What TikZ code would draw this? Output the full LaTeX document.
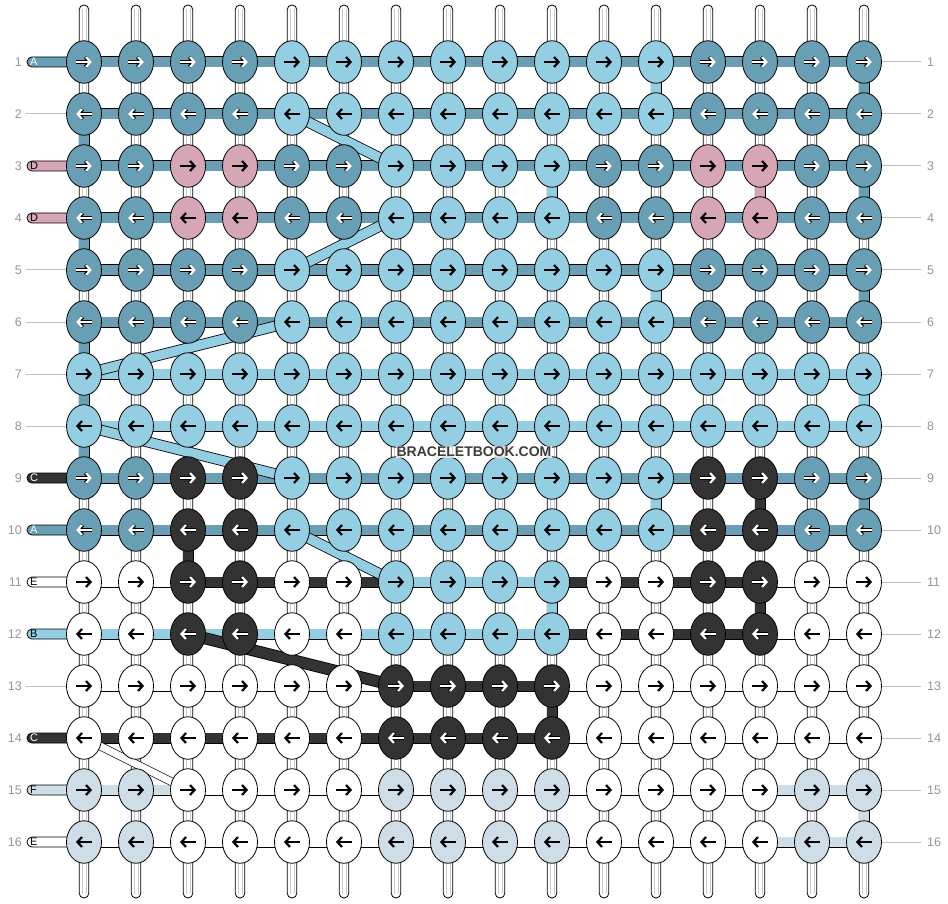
\documentclass[tikz,border=0pt]{standalone}
\usepackage{fontspec}
\setmainfont{Liberation Sans}
\usetikzlibrary{shapes.geometric,arrows.meta}
\definecolor{colA}{RGB}{104,159,181}
\definecolor{colB}{RGB}{148,206,226}
\definecolor{colC}{RGB}{51,51,51}
\definecolor{colD}{RGB}{214,166,180}
\definecolor{colE}{RGB}{255,255,255}
\definecolor{colF}{RGB}{207,221,231}
\colorlet{arrA}{white}\colorlet{outA}{black}
\colorlet{arrC}{white}\colorlet{outC}{black}
\colorlet{arrB}{black}\colorlet{outB}{colB}
\colorlet{arrD}{black}\colorlet{outD}{colD}
\colorlet{arrE}{black}\colorlet{outE}{colE}
\colorlet{arrF}{black}\colorlet{outF}{colF}
\colorlet{tagtxtA}{white}\colorlet{tagtxtC}{white}
\colorlet{tagtxtB}{black}\colorlet{tagtxtD}{black}
\colorlet{tagtxtE}{black}\colorlet{tagtxtF}{black}
\definecolor{numgray}{RGB}{150,150,150}
\definecolor{linegray}{RGB}{190,190,190}
\definecolor{tubegray}{RGB}{200,200,200}
\definecolor{wmgray}{RGB}{60,60,60}
\tikzset{
 knot/.style={ellipse, draw=black, line width=0.8pt, minimum width=35pt, minimum height=42.5pt, inner sep=0pt},
 outl/.style={line width=11pt, draw=black},
 infill/.style={line width=9.4pt},
 arrowsty/.style={line width=2.2pt, -{Straight Barb[length=4.5pt,width=10pt]}},
 tube/.style={draw=black, line width=0.8pt, fill=white, rounded corners=4.7pt},
 tubeline/.style={draw=tubegray, line width=0.6pt},
 gline/.style={draw=linegray, line width=1pt},
 num/.style={text=numgray, font=\fontsize{12.5}{14}\selectfont, inner sep=0pt},
 tagtext/.style={font=\fontsize{11}{12}\selectfont, inner sep=0pt},
}
\begin{document}
\begin{tikzpicture}[x=1pt,y=-1pt]
\useasboundingbox (0,0) rectangle (948,904);
\fill[white] (0,0) rectangle (948,904);
% knot positions
\foreach \rw in {1,...,16}{
  \foreach \cl in {1,...,16}{
    \coordinate (p-\rw-\cl) at ({84+52*(\cl-1)},{62+52*(\rw-1)});
  }
}
% vertical base strings (tubes)
\foreach \cl in {1,...,16}{
  \pgfmathsetmacro\xx{84+52*(\cl-1)}
  \draw[tube] ({\xx-4.8},5) rectangle ({\xx+4.8},898);
  \draw[tubeline] ({\xx-1.8},9) -- ({\xx-1.8},894);
  \draw[tubeline] ({\xx+1.8},9) -- ({\xx+1.8},894);
}
% horizontal segments
\foreach \rw/\lst in {
 1/{A,A,A,A,A,A,A,A,A,A,A,A,A,A,A},
 2/{A,A,A,A,A,A,A,A,A,A,A,A,A,A,A},
 3/{A,A,A,A,A,A,A,A,A,A,A,A,A,A,A},
 4/{A,A,A,A,A,A,A,A,A,A,A,A,A,A,A},
 5/{A,A,A,A,A,A,A,A,A,A,A,A,A,A,A},
 6/{A,A,A,A,A,A,A,A,A,A,A,A,A,A,A},
 7/{B,B,B,B,B,B,B,B,B,B,B,B,B,B,B},
 8/{B,B,B,B,B,B,B,B,B,B,B,B,B,B,B},
 9/{A,A,A,A,A,A,A,A,A,A,A,A,A,A,A},
 10/{A,A,A,A,A,A,A,A,A,A,A,A,A,A,A},
 11/{E,E,C,C,C,C,B,B,B,C,C,C,C,E,E},
 12/{B,B,B,B,B,B,B,B,B,C,C,C,C,E,E},
 13/{E,E,E,E,E,E,C,C,C,E,E,E,E,E,E},
 14/{C,C,C,C,C,C,C,C,C,E,E,E,E,E,E},
 15/{F,F,E,E,E,E,E,E,E,E,E,E,E,F,F},
 16/{E,E,E,E,E,E,E,E,E,E,E,E,E,F,F}}{
  \foreach \s [count=\k] in \lst {
    \pgfmathtruncatemacro\kk{\k+1}
    \draw[outl] (p-\rw-\k) -- (p-\rw-\kk);
    \draw[infill, draw=col\s] (p-\rw-\k) -- (p-\rw-\kk);
  }
}
% vertical coloured segments
\foreach \rw/\cl/\s in {1/16/A, 1/12/B, 2/1/A, 3/10/B, 3/14/D, 3/16/A, 4/1/A, 5/12/B, 5/16/A, 6/1/A, 7/1/A, 7/16/B, 8/1/A, 9/12/B, 9/14/C, 9/16/A, 10/3/C, 11/10/B, 11/14/C, 13/10/C, 15/16/F}{
  \pgfmathtruncatemacro\rr{\rw+1}
  \draw[outl] (p-\rw-\cl) -- (p-\rr-\cl);
  \draw[infill, draw=col\s] (p-\rw-\cl) -- (p-\rr-\cl);
}
% diagonal strings
\foreach \a/\b/\cc/\d/\s/\w/\ow in {2/5/3/7/B/9.4/11, 4/7/5/5/B/9.4/11, 6/5/7/1/B/9.4/11, 8/1/9/5/B/9.4/11, 10/5/11/7/B/9.4/11, 12/3/13/7/C/10.4/12, 14/1/15/3/E/7/8.4}{
  \draw[line width=\ow pt, draw=black] (p-\a-\b) -- (p-\cc-\d);
  \draw[line width=\w pt, draw=col\s] (p-\a-\b) -- (p-\cc-\d);
}
% tags on the left
\foreach \rw/\t in {1/A,3/D,4/D,9/C,10/A,11/E,12/B,14/C,15/F,16/E}{
  \pgfmathsetmacro\yy{62+52*(\rw-1)}
  \draw[line width=0.8pt, draw=black, fill=col\t, rounded corners=4.9pt] (27,{\yy-5}) rectangle (84,{\yy+5});
  \node[tagtext, anchor=west, text=tagtxt\t] (tag-\rw) at (30,\yy) {\t};
}
% thin grey lines
\foreach \rw in {2,5,6,7,8,13}{
  \coordinate (gl-\rw) at (26,{62+52*(\rw-1)});
  \draw[gline] (gl-\rw) -- (p-\rw-1);
}
\foreach \rw in {1,...,16}{
  \coordinate (gr-\rw) at (921,{62+52*(\rw-1)});
  \draw[gline] (p-\rw-16) -- (gr-\rw);
  \node[num, anchor=east] (nl-\rw) at (22,{62+52*(\rw-1)}) {\rw};
  \node[num, anchor=west] (nr-\rw) at (927,{62+52*(\rw-1)}) {\rw};
}
% knots
\foreach \rw/\lst in {
 1/{A,A,A,A,B,B,B,B,B,B,B,B,A,A,A,A},
 2/{A,A,A,A,B,B,B,B,B,B,B,B,A,A,A,A},
 3/{A,A,D,D,A,A,B,B,B,B,A,A,D,D,A,A},
 4/{A,A,D,D,A,A,B,B,B,B,A,A,D,D,A,A},
 5/{A,A,A,A,B,B,B,B,B,B,B,B,A,A,A,A},
 6/{A,A,A,A,B,B,B,B,B,B,B,B,A,A,A,A},
 7/{B,B,B,B,B,B,B,B,B,B,B,B,B,B,B,B},
 8/{B,B,B,B,B,B,B,B,B,B,B,B,B,B,B,B},
 9/{A,A,C,C,B,B,B,B,B,B,B,B,C,C,A,A},
 10/{A,A,C,C,B,B,B,B,B,B,B,B,C,C,A,A},
 11/{E,E,C,C,E,E,B,B,B,B,E,E,C,C,E,E},
 12/{E,E,C,C,E,E,B,B,B,B,E,E,C,C,E,E},
 13/{E,E,E,E,E,E,C,C,C,C,E,E,E,E,E,E},
 14/{E,E,E,E,E,E,C,C,C,C,E,E,E,E,E,E},
 15/{F,F,E,E,E,E,F,F,F,F,E,E,E,E,F,F},
 16/{F,F,E,E,E,E,F,F,F,F,E,E,E,E,F,F}}{
  \pgfmathsetmacro\axa{mod(\rw,2)==1 ? -8 : 8}
  \pgfmathsetmacro\axb{mod(\rw,2)==1 ? 8 : -8}
  \foreach \s [count=\cl] in \lst {
    \node[knot, fill=col\s] (k-\rw-\cl) at (p-\rw-\cl) {};
    \draw[arrowsty, line width=3.4pt, draw=out\s] ([xshift=\axa pt]k-\rw-\cl.center) -- ([xshift=\axb pt]k-\rw-\cl.center);
    \draw[arrowsty, draw=arr\s] ([xshift=\axa pt]k-\rw-\cl.center) -- ([xshift=\axb pt]k-\rw-\cl.center);
  }
}
% watermark
\node[font=\bfseries\fontsize{14}{14}\selectfont, text=wmgray, fill=white, fill opacity=0.75, text opacity=1, inner sep=1pt] (wm) at (474,452) {BRACELETBOOK.COM};
\end{tikzpicture}
\end{document}
